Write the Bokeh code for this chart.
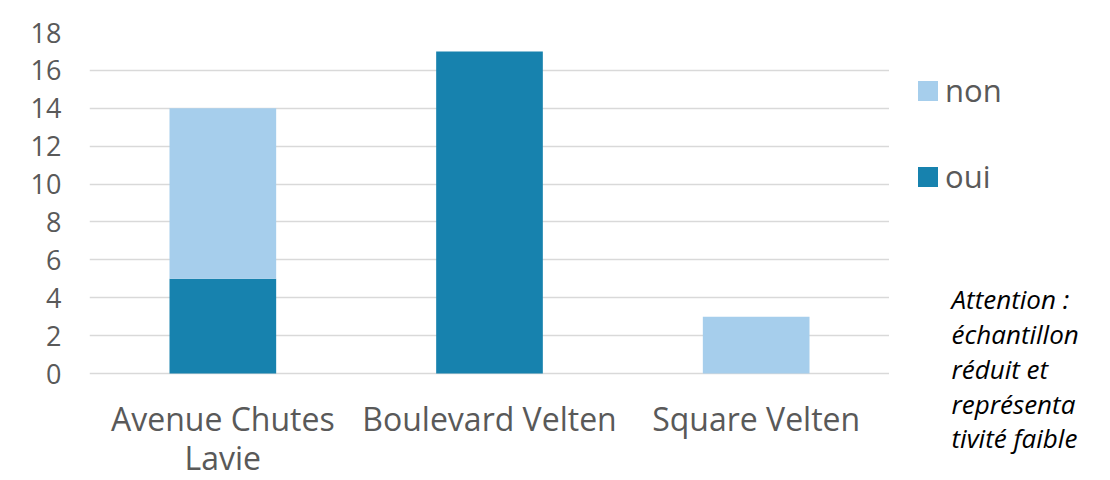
from bokeh.plotting import figure
from bokeh.layouts import row
from bokeh.models import Legend, LegendItem, ColumnDataSource, FixedTicker, Range1d
from bokeh.core.properties import value
from bokeh.embed import file_html
from bokeh.resources import INLINE

categories = ["Avenue Chutes Lavie", "Boulevard Velten", "Square Velten"]
label_line1 = ["Avenue Chutes", "Boulevard Velten", "Square Velten"]
label_line2 = ["Lavie", "", ""]
oui = [5, 17, 0]
non = [9, 0, 3]
series = ["oui", "non"]
colors = ["#1782AE", "#A6CEEC"]
y_ticks = [0, 2, 4, 6, 8, 10, 12, 14, 16, 18]
note_lines = ["Attention :", "échantillon", "réduit et", "représenta", "tivité faible"]

FONT = "Open Sans"
GREY = "#595959"
TOP = 32

# ---------------- main chart ----------------
source = ColumnDataSource(dict(cat=categories, oui=oui, non=non))

PX_PER_UNIT = 341 / 18.0
BOTTOM_EXTRA = 107 / PX_PER_UNIT   # room under the 0 line for the category labels

p = figure(x_range=categories, y_range=Range1d(-BOTTOM_EXTRA, 18),
           width=889, height=480, output_backend="svg", toolbar_location=None,
           min_border_left=89, min_border_right=0, min_border_top=TOP, min_border_bottom=0)
p.outline_line_color = None
p.border_fill_color = "white"

renderers = p.vbar_stack(series, x="cat", width=0.4, color=colors, source=source, line_color=None)

p.yaxis.ticker = FixedTicker(ticks=y_ticks)
p.yaxis.axis_line_color = None
p.yaxis.major_tick_line_color = None
p.yaxis.minor_tick_line_color = None
p.yaxis.major_tick_out = 0
p.yaxis.major_label_standoff = 28
p.yaxis.major_label_text_font = FONT
p.yaxis.major_label_text_font_size = "27px"
p.yaxis.major_label_text_color = GREY

p.xaxis.visible = False
p.xgrid.grid_line_color = None
p.ygrid.grid_line_color = "#D9D9D9"
p.ygrid.grid_line_width = 1.5

lab_src = ColumnDataSource(dict(cat=categories, l1=label_line1, l2=label_line2,
                                y1=[-45.0 / PX_PER_UNIT] * 3, y2=[-83.5 / PX_PER_UNIT] * 3))
p.text(x="cat", y="y1", text="l1", source=lab_src, text_font=value(FONT),
       text_font_size="32px", text_color=GREY, text_align="center", text_baseline="middle")
p.text(x="cat", y="y2", text="l2", source=lab_src, text_font=value(FONT),
       text_font_size="32px", text_color=GREY, text_align="center", text_baseline="middle")

# ---------------- side panel: legend + note (pixel-like coordinates) ----------------
s = figure(x_range=Range1d(0, 221), y_range=Range1d(480, TOP), width=221, height=480,
           output_backend="svg", toolbar_location=None,
           x_axis_location=None, y_axis_location=None,
           min_border_left=0, min_border_right=0, min_border_top=TOP, min_border_bottom=0)
s.grid.visible = False
s.outline_line_color = None
s.border_fill_color = "white"

# proxy glyphs (kept outside the visible panel) that give the legend its swatches
proxy = ColumnDataSource(dict(l=[-30], r=[-20], t=[-30], b=[-20]))
r_non = s.quad(left="l", right="r", top="t", bottom="b", source=proxy, color=colors[1], line_color=None)
r_oui = s.quad(left="l", right="r", top="t", bottom="b", source=proxy, color=colors[0], line_color=None)

legend = Legend(items=[LegendItem(label="non", renderers=[r_non]),
                       LegendItem(label="oui", renderers=[r_oui])],
                location=(26, 282))
legend.label_text_font = FONT
legend.label_text_font_size = "31px"
legend.label_text_color = GREY
legend.glyph_width = 25
legend.glyph_height = 25
legend.label_height = 44
legend.spacing = 42
legend.padding = 0
legend.margin = 0
legend.label_standoff = 5
legend.border_line_color = None
legend.background_fill_alpha = 0
s.add_layout(legend)

n = len(note_lines)
note_src = ColumnDataSource(dict(x=[62] * n, y=[298.5 + 34.85 * i for i in range(n)], text=note_lines))
s.text(x="x", y="y", text="text", source=note_src, text_font=value(FONT),
       text_font_style="italic", text_font_size="26px", text_color="black",
       text_align="left", text_baseline="middle")

layout = row(p, s)
open("out.html", "w").write(file_html(layout, INLINE))
